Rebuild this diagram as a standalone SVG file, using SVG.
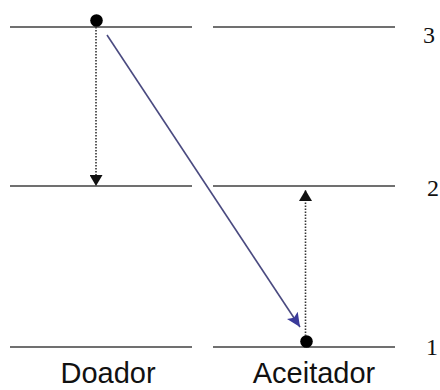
<svg xmlns="http://www.w3.org/2000/svg" width="440" height="390" viewBox="0 0 440 390">
  <style>
    .level { stroke: #707070; stroke-width: 2.2; fill: none; }
    .dotted { stroke: #333; stroke-width: 1.6; stroke-dasharray: 1.5 1.5; fill: none; }
    .transfer { stroke: #4a4a80; stroke-width: 1.6; fill: none; }
    .num { font-family: "Liberation Serif", serif; font-size: 24px; fill: #111; }
    .label { font-family: "Liberation Sans", Arial, sans-serif; font-size: 29px; fill: #111; text-anchor: middle; }
  </style>
  <defs>
    <marker id="blk" viewBox="0 0 11 13" refX="11" refY="6.5" markerWidth="11" markerHeight="13" markerUnits="userSpaceOnUse" orient="auto">
      <path d="M0,0 L11,6.5 L0,13 Z" fill="#111"/>
    </marker>
    <marker id="blue" viewBox="0 0 14 13" refX="14" refY="6.5" markerWidth="14" markerHeight="13" markerUnits="userSpaceOnUse" orient="auto">
      <path d="M0,0 L14,6.5 L0,13 L3,6.5 Z" fill="#3a3a9a"/>
    </marker>
  </defs>
  <g id="levels">
    <line class="level" x1="10" y1="27" x2="192" y2="27"/>
    <line class="level" x1="213" y1="27" x2="395" y2="27"/>
    <line class="level" x1="10" y1="186" x2="192" y2="186"/>
    <line class="level" x1="213" y1="186" x2="395" y2="186"/>
    <line class="level" x1="10" y1="347" x2="192" y2="347"/>
    <line class="level" x1="213" y1="347" x2="395" y2="347"/>
  </g>
  <g id="donor">
    <circle cx="96.5" cy="20.5" r="6.3" fill="#000"/>
    <text class="label" x="108" y="383">Doador</text>
  </g>
  <g id="acceptor">
    <circle cx="306.5" cy="341.5" r="6.3" fill="#000"/>
    <text class="label" x="314" y="383">Aceitador</text>
  </g>
  <g id="level-numbers">
    <text class="num" x="423" y="43">3</text>
    <text class="num" x="427" y="196">2</text>
    <text class="num" x="426" y="355">1</text>
  </g>
  <g id="connectors">
    <line class="dotted" x1="96" y1="27" x2="96" y2="186" marker-end="url(#blk)"/>
    <line class="dotted" x1="305.5" y1="336" x2="305.5" y2="190" marker-end="url(#blk)"/>
    <line class="transfer" x1="107" y1="35" x2="300" y2="327" marker-end="url(#blue)"/>
  </g>
</svg>
